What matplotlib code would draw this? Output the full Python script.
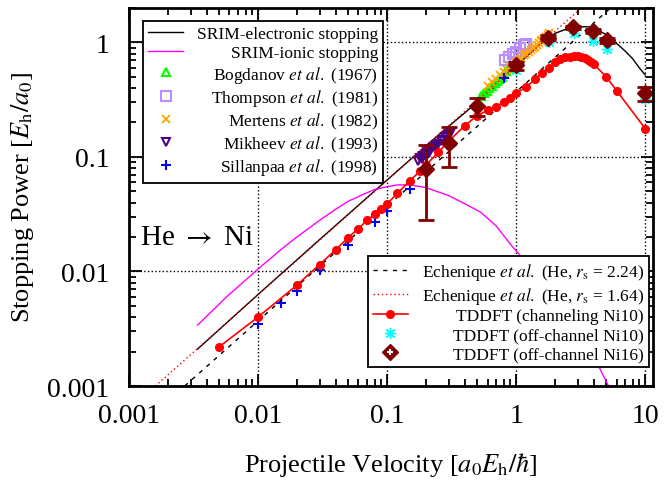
import matplotlib
matplotlib.use('Agg')
import matplotlib.pyplot as plt
from matplotlib.lines import Line2D

plt.rcParams['font.family'] = ['Liberation Serif', 'DejaVu Serif']
plt.rcParams['mathtext.fontset'] = 'stix'

# SRIM curves
srim_e_v = [0.0034, 0.01, 0.03, 0.1, 0.2, 0.3, 0.5, 0.7, 1.0, 1.5, 2.0, 2.5, 3.0, 3.6, 4.0, 5.0, 6.0, 7.0, 8.0, 9.0, 10.0]
srim_e_s = [0.0021, 0.0063, 0.019, 0.063, 0.125, 0.185, 0.30, 0.42, 0.62, 0.95, 1.2, 1.32, 1.37, 1.37, 1.33, 1.17, 0.98, 0.84, 0.72, 0.6, 0.52]
srim_i_v = [0.0034, 0.0057, 0.01, 0.015, 0.02, 0.03, 0.04, 0.05, 0.065, 0.08, 0.1, 0.12, 0.15, 0.2,
            0.3, 0.4, 0.53, 0.7, 0.93, 1.2, 1.5, 2.0, 2.5, 3.0, 4.0, 5.2, 6.0]
srim_i_s = [0.0034, 0.006, 0.0105, 0.0155, 0.02, 0.028, 0.035, 0.041, 0.047, 0.052, 0.055, 0.057, 0.057, 0.054,
            0.046, 0.039, 0.033, 0.025, 0.0166, 0.012, 0.0088, 0.0058, 0.0042, 0.0031, 0.0018, 0.001, 0.0008]

# experiments
bog_v = [0.53, 0.56, 0.59, 0.62, 0.65, 0.68, 0.71, 0.74, 0.77, 0.80, 0.84, 0.88]
bog_s = [0.34, 0.36, 0.38, 0.40, 0.42, 0.44, 0.46, 0.48, 0.50, 0.53, 0.56, 0.60]
tho_v = [0.82, 0.88, 0.95, 1.0, 1.08, 1.15, 1.2]
tho_s = [0.70, 0.74, 0.80, 0.83, 0.90, 0.95, 0.97]
mer_v = [0.6, 0.65, 0.7, 0.75, 0.8, 0.85, 0.9, 0.95, 1.0, 1.05, 1.1, 1.15, 1.2, 1.25, 1.3, 1.35,
         1.4, 1.45, 1.5, 1.55, 1.6, 1.65, 1.7, 1.75, 1.8]
mer_s = [0.42, 0.45, 0.48, 0.52, 0.55, 0.58, 0.61, 0.64, 0.67, 0.70, 0.73, 0.77, 0.80, 0.83, 0.86, 0.89,
         0.92, 0.95, 0.98, 1.02, 1.05, 1.08, 1.12, 1.16, 1.2]
mik_v = [0.175, 0.18, 0.185, 0.19, 0.2, 0.205, 0.21, 0.22, 0.23, 0.24, 0.25, 0.26, 0.27, 0.28, 0.29, 0.3, 0.31]
mik_s = [0.093, 0.097, 0.096, 0.101, 0.105, 0.11, 0.109, 0.118, 0.121, 0.128, 0.131, 0.139, 0.142, 0.149, 0.153, 0.16, 0.165]
sil_v = [0.01, 0.015, 0.02, 0.03, 0.05, 0.08, 0.1, 0.15, 0.2, 0.8]
sil_s = [0.0035, 0.0053, 0.0067, 0.0102, 0.0169, 0.0273, 0.034, 0.052, 0.073, 0.49]

# Echenique (linear in v)
ech1_v = [0.0027, 5.4]
ech1_s = [0.001, 2.0]
ech2_v = [0.0016, 3.2]
ech2_s = [0.001, 2.0]

# TDDFT
ch_v = [0.005, 0.01, 0.02, 0.03, 0.04, 0.05, 0.06, 0.07, 0.08, 0.09, 0.1, 0.12, 0.15, 0.18, 0.2, 0.25,
        0.3, 0.4, 0.5, 0.6, 0.7, 0.8, 0.9, 1.0, 1.2, 1.4, 1.6, 1.8, 2.0, 2.2, 2.4, 2.6, 2.8, 3.0,
        3.2, 3.4, 3.6, 3.8, 4.0, 5.0, 6.0, 10.0]
ch_s = [0.0022, 0.004, 0.0076, 0.0115, 0.0155, 0.0198, 0.0237, 0.028, 0.0315, 0.035, 0.039, 0.048,
        0.062, 0.075, 0.085, 0.11, 0.137, 0.188, 0.23, 0.255, 0.275, 0.3, 0.33, 0.36, 0.41, 0.475,
        0.545, 0.6, 0.67, 0.71, 0.74, 0.75, 0.755, 0.755, 0.745, 0.725, 0.7, 0.67, 0.645, 0.5, 0.38, 0.177]
off10_v = [1.0, 1.8, 2.8, 3.95, 5.07, 10.0]
off10_s = [0.58, 1.0, 1.2, 1.03, 0.88, 0.32]
off16_v = [0.2, 0.3, 0.5, 1.0, 1.77, 2.77, 3.95, 5.07, 10.0]
off16_s = [0.078, 0.132, 0.28, 0.63, 1.1, 1.35, 1.25, 1.04, 0.36]
off16_err = [0.05, 0.05, 0.05, 0.05, 0.05, 0.05, 0.05, 0.05, 0.05]

etal = r'$\it{et\ al.}$'

fig = plt.figure(figsize=(6.65, 4.81), dpi=100)
ax = fig.add_axes([0.194, 0.1954, 0.788, 0.786])

l_se, = ax.plot(srim_e_v, srim_e_s, color='black', lw=1)
l_si, = ax.plot(srim_i_v, srim_i_s, color='magenta', lw=1)
l_bog, = ax.plot(bog_v, bog_s, ls='none', marker='^', ms=6, mfc='none', mec='lime', mew=1.5)
l_tho, = ax.plot(tho_v, tho_s, ls='none', marker='s', ms=7, mfc='none', mec='#b98cff', mew=1.5)
l_mer, = ax.plot(mer_v, mer_s, ls='none', marker='x', ms=6, color='orange', mew=1.3)
l_mik, = ax.plot(mik_v, mik_s, ls='none', marker='v', ms=6, mfc='none', mec='#4b0082', mew=1.5)
l_sil, = ax.plot(sil_v, sil_s, ls='none', marker='+', ms=7, color='blue', mew=1.5)
l_e1, = ax.plot(ech1_v, ech1_s, color='black', lw=1, dashes=(3, 4))
l_e2, = ax.plot(ech2_v, ech2_s, color='red', lw=1, dashes=(1, 2))
l_ch, = ax.plot(ch_v, ch_s, color='red', lw=1.2, marker='o', ms=5.5)
l_o10, = ax.plot(off10_v, off10_s, ls='none', marker=(8, 2, 0), ms=8, color='cyan', mew=1)
ax.errorbar(off16_v, off16_s, yerr=off16_err, fmt='D', color='#800000', ms=8,
            capsize=6, elinewidth=2, capthick=2)
diam = Line2D([], [], ls='none', marker='D', color='#800000', ms=8)
cross = Line2D([], [], ls='none', marker='+', color='white', ms=5, mew=1.5)

ax.set_xscale('log')
ax.set_yscale('log')
ax.set_xlim(0.001, 11.5)
ax.set_ylim(0.001, 2.0)
ax.set_xticks([0.001, 0.01, 0.1, 1, 10])
ax.set_xticklabels(['0.001', '0.01', '0.1', '1', '10'])
ax.set_yticks([0.001, 0.01, 0.1, 1])
ax.set_yticklabels(['0.001', '0.01', '0.1', '1'])
ax.tick_params(which='both', direction='in', top=True, right=True, width=1.3)
ax.tick_params(which='major', length=9, labelsize=20, pad=12)
ax.tick_params(which='minor', length=5)
ax.tick_params(axis='y', pad=14)
for s in ax.spines.values():
    s.set_linewidth(2)
ax.grid(True, which='major', color='black', ls=':', lw=1)

ax.set_xlabel(r'Projectile Velocity [$a_0E_\mathrm{h}/\hbar$]', fontsize=19, labelpad=16)
ax.set_ylabel(r'Stopping Power [$E_\mathrm{h}/a_0$]', fontsize=19, labelpad=8)
ax.text(0.00122, 0.0175, r'He $\rightarrow$ Ni', fontsize=21)

leg1 = ax.legend([l_se, l_si, l_bog, l_tho, l_mer, l_mik, l_sil],
                 ['SRIM-electronic stopping', 'SRIM-ionic stopping',
                  'Bogdanov ' + etal + ' (1967)', 'Thompson ' + etal + ' (1981)',
                  'Mertens ' + etal + ' (1982)', 'Mikheev ' + etal + ' (1993)',
                  'Sillanpaa ' + etal + ' (1998)'],
                 loc='upper left', bbox_to_anchor=(0.027, 0.966), borderaxespad=0,
                 fontsize=12.5, labelspacing=0.15, handlelength=2, fancybox=False,
                 edgecolor='black', framealpha=1, borderpad=0.3, handletextpad=0.8)
leg1.get_frame().set_linewidth(1.3)
ax.add_artist(leg1)

leg2 = ax.legend([l_e1, l_e2, l_ch, l_o10, (diam, cross)],
                 ['Echenique ' + etal + r' (He, $r_\mathrm{s}$ = 2.24)',
                  'Echenique ' + etal + r' (He, $r_\mathrm{s}$ = 1.64)',
                  'TDDFT (channeling Ni10)', 'TDDFT (off-channel Ni10)',
                  'TDDFT (off-channel Ni16)'],
                 loc='lower right', bbox_to_anchor=(0.992, 0.05), borderaxespad=0,
                 fontsize=12.5, labelspacing=0.15, handlelength=2, fancybox=False,
                 edgecolor='black', framealpha=1, borderpad=0.3, handletextpad=0.8)
leg2.get_frame().set_linewidth(1.3)

# right-align legend labels
fig.canvas.draw()
r = fig.canvas.get_renderer()
for leg in [leg1, leg2]:
    ws = [t.get_window_extent(r).width for t in leg.get_texts()]
    for t, w in zip(leg.get_texts(), ws):
        t.set_position((max(ws) - w, 0))

fig.savefig('out.png', dpi=100)
